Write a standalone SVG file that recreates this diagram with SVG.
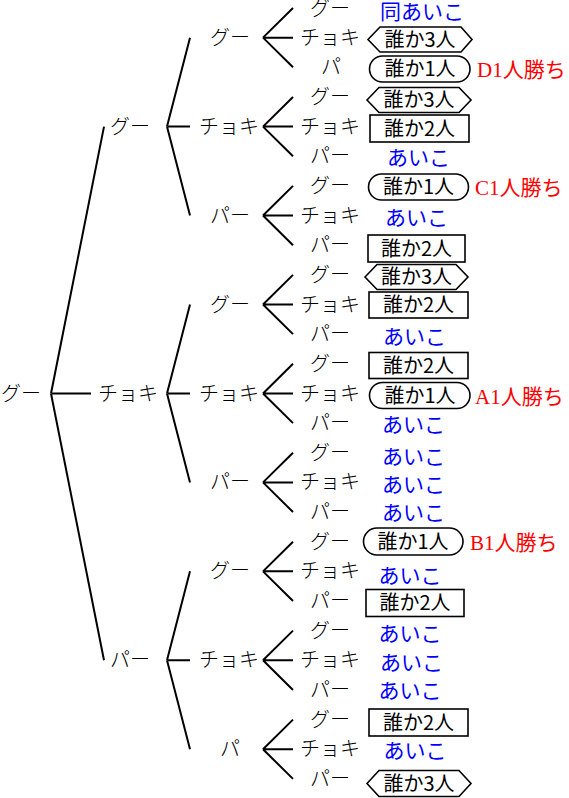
<svg xmlns="http://www.w3.org/2000/svg" width="569" height="798" viewBox="0 0 569 798">
<style>
.lb{font-family:"Noto Sans CJK JP","Noto Sans CJK SC",sans-serif;font-size:20px;font-weight:300;fill:#000;text-anchor:middle}
.bx{font-family:"Noto Sans CJK JP","Noto Sans CJK SC",sans-serif;font-size:20px;fill:#000;text-anchor:middle}
.ai{font-family:"Noto Sans CJK JP","Noto Sans CJK SC",sans-serif;font-size:21px;fill:#0000FF;text-anchor:middle}
.win{font-family:"Liberation Serif","Noto Sans CJK JP",serif;font-size:21px;fill:#FF0000}
.sh{fill:#fff;stroke:#000;stroke-width:1.6}
.cn{fill:none;stroke:#000;stroke-width:2}
</style>
<rect width="569" height="798" fill="#fff"/>
<g id="connectors" class="cn">
<path d="M51 393.45L104 126.6M51 393.45H91M51 393.45L104 660.3"/>
<path d="M167 126.6L190 37.65M167 126.6H190M167 126.6L190 215.55"/>
<path d="M167 393.45L190 304.5M167 393.45H190M167 393.45L190 482.4"/>
<path d="M167 660.3L190 571.35M167 660.3H190M167 660.3L190 749.25"/>
<path d="M263 37.65L293 8M263 37.65H293M263 37.65L293 67.3"/>
<path d="M263 126.6L293 96.95M263 126.6H293M263 126.6L293 156.25"/>
<path d="M263 215.55L293 185.9M263 215.55H293M263 215.55L293 245.2"/>
<path d="M263 304.5L293 274.85M263 304.5H293M263 304.5L293 334.15"/>
<path d="M263 393.45L293 363.8M263 393.45H293M263 393.45L293 423.1"/>
<path d="M263 482.4L293 452.75M263 482.4H293M263 482.4L293 512.05"/>
<path d="M263 571.35L293 541.7M263 571.35H293M263 571.35L293 601"/>
<path d="M263 660.3L293 630.65M263 660.3H293M263 660.3L293 689.95"/>
<path d="M263 749.25L293 719.6M263 749.25H293M263 749.25L293 778.9"/>
</g>
<g id="root"><text class="lb" x="21" y="400.5">グー</text></g>
<g id="n1-g"><text class="lb" x="130" y="133.6">グー</text></g>
<g id="n1-c"><text class="lb" x="128" y="400.5">チョキ</text></g>
<g id="n1-p"><text class="lb" x="130" y="667.3">パー</text></g>
<g id="n2-gg"><text class="lb" x="230" y="44.6">グー</text></g>
<g id="n2-gc"><text class="lb" x="229" y="133.6">チョキ</text></g>
<g id="n2-gp"><text class="lb" x="230" y="222.5">パー</text></g>
<g id="n2-cg"><text class="lb" x="230" y="311.5">グー</text></g>
<g id="n2-cc"><text class="lb" x="229" y="400.5">チョキ</text></g>
<g id="n2-cp"><text class="lb" x="230" y="489.4">パー</text></g>
<g id="n2-pg"><text class="lb" x="230" y="578.3">グー</text></g>
<g id="n2-pc"><text class="lb" x="229" y="667.3">チョキ</text></g>
<g id="n2-pp"><text class="lb" x="230" y="756.2">パ</text></g>
<g id="leaves">
<g id="l0"><text class="lb" x="330" y="16">グー</text></g>
<g id="l1"><text class="lb" x="330" y="44.6">チョキ</text></g>
<g id="l2"><text class="lb" x="331" y="74.3">パ</text></g>
<g id="l3"><text class="lb" x="330" y="104">グー</text></g>
<g id="l4"><text class="lb" x="330" y="133.6">チョキ</text></g>
<g id="l5"><text class="lb" x="330" y="163.2">パー</text></g>
<g id="l6"><text class="lb" x="330" y="192.9">グー</text></g>
<g id="l7"><text class="lb" x="330" y="222.5">チョキ</text></g>
<g id="l8"><text class="lb" x="330" y="252.2">パー</text></g>
<g id="l9"><text class="lb" x="330" y="281.8">グー</text></g>
<g id="l10"><text class="lb" x="330" y="311.5">チョキ</text></g>
<g id="l11"><text class="lb" x="330" y="341.1">パー</text></g>
<g id="l12"><text class="lb" x="330" y="370.8">グー</text></g>
<g id="l13"><text class="lb" x="330" y="400.5">チョキ</text></g>
<g id="l14"><text class="lb" x="330" y="430.1">パー</text></g>
<g id="l15"><text class="lb" x="330" y="459.7">グー</text></g>
<g id="l16"><text class="lb" x="330" y="489.4">チョキ</text></g>
<g id="l17"><text class="lb" x="330" y="519">パー</text></g>
<g id="l18"><text class="lb" x="330" y="548.7">グー</text></g>
<g id="l19"><text class="lb" x="330" y="578.3">チョキ</text></g>
<g id="l20"><text class="lb" x="330" y="608">パー</text></g>
<g id="l21"><text class="lb" x="330" y="637.6">グー</text></g>
<g id="l22"><text class="lb" x="330" y="667.3">チョキ</text></g>
<g id="l23"><text class="lb" x="330" y="697">パー</text></g>
<g id="l24"><text class="lb" x="330" y="726.6">グー</text></g>
<g id="l25"><text class="lb" x="330" y="756.2">チョキ</text></g>
<g id="l26"><text class="lb" x="330" y="785.9">パー</text></g>
</g>
<g id="results">
<g id="r0"><text class="ai" x="422" y="18.5">同あいこ</text></g>
<g id="r1"><polygon class="sh" points="368,39.5 380,27 461,27 472,39.5 461,52 380,52"/><text class="bx" x="420" y="46.5">誰か3人</text></g>
<g id="r2"><rect class="sh" x="369.5" y="56" width="100.5" height="26" rx="13"/><text class="bx" x="420" y="76">誰か1人</text><text class="win" x="477" y="77">D1人勝ち</text></g>
<g id="r3"><polygon class="sh" points="367,100 379,87.5 459,87.5 471,100 459,112.5 379,112.5"/><text class="bx" x="419" y="107">誰か3人</text></g>
<g id="r4"><rect class="sh" x="370" y="115" width="99" height="27"/><text class="bx" x="419.5" y="135.5">誰か2人</text></g>
<g id="r5"><text class="ai" x="418.5" y="165">あいこ</text></g>
<g id="r6"><rect class="sh" x="368.5" y="174" width="100" height="26" rx="13"/><text class="bx" x="418.5" y="194">誰か1人</text><text class="win" x="475" y="195">C1人勝ち</text></g>
<g id="r7"><text class="ai" x="416.5" y="225">あいこ</text></g>
<g id="r8"><rect class="sh" x="368" y="235" width="97" height="27"/><text class="bx" x="416.5" y="255.5">誰か2人</text></g>
<g id="r9"><polygon class="sh" points="365,277 377,264.5 456,264.5 468,277 456,289.5 377,289.5"/><text class="bx" x="416.5" y="284">誰か3人</text></g>
<g id="r10"><rect class="sh" x="369" y="292" width="99" height="26"/><text class="bx" x="418.5" y="312">誰か2人</text></g>
<g id="r11"><text class="ai" x="414.5" y="344">あいこ</text></g>
<g id="r12"><rect class="sh" x="369" y="352.5" width="99" height="26"/><text class="bx" x="418.5" y="372.5">誰か2人</text></g>
<g id="r13"><rect class="sh" x="369.5" y="382.5" width="100.5" height="26" rx="13"/><text class="bx" x="420" y="402.5">誰か1人</text><text class="win" x="475" y="403.5">A1人勝ち</text></g>
<g id="r14"><text class="ai" x="413.5" y="432">あいこ</text></g>
<g id="r15"><text class="ai" x="413.5" y="463.5">あいこ</text></g>
<g id="r16"><text class="ai" x="413.5" y="492">あいこ</text></g>
<g id="r17"><text class="ai" x="413.5" y="520">あいこ</text></g>
<g id="r18"><rect class="sh" x="363.5" y="528" width="99.5" height="27" rx="13.5"/><text class="bx" x="413" y="548.5">誰か1人</text><text class="win" x="470" y="549.5">B1人勝ち</text></g>
<g id="r19"><text class="ai" x="410" y="583">あいこ</text></g>
<g id="r20"><rect class="sh" x="366" y="589.5" width="98" height="27"/><text class="bx" x="415" y="610">誰か2人</text></g>
<g id="r21"><text class="ai" x="410" y="641">あいこ</text></g>
<g id="r22"><text class="ai" x="411.5" y="670">あいこ</text></g>
<g id="r23"><text class="ai" x="410" y="698">あいこ</text></g>
<g id="r24"><rect class="sh" x="369" y="709" width="99" height="27"/><text class="bx" x="418.5" y="729.5">誰か2人</text></g>
<g id="r25"><text class="ai" x="415" y="758">あいこ</text></g>
<g id="r26"><polygon class="sh" points="367,783.5 379,770.5 459,770.5 471,783.5 459,796.5 379,796.5"/><text class="bx" x="419" y="790.5">誰か3人</text></g>
</g>
</svg>
